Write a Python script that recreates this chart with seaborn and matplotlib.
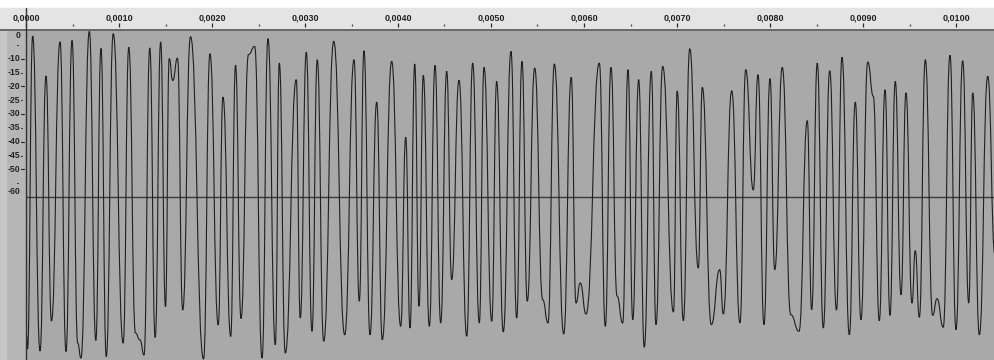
import numpy as np
import matplotlib
matplotlib.use("Agg")
import matplotlib.pyplot as plt
import seaborn as sns
import pandas as pd
from matplotlib.path import Path
from matplotlib.patches import PathPatch
from matplotlib.transforms import blended_transform_factory

sns.set_theme(style="white")
plt.rcParams['font.family'] = ['Liberation Sans', 'DejaVu Sans']

# Waveform vertices: time in milliseconds and display level
# (+1 = 0 dB on the upper half, 0 = -60 dB floor, -1 = 0 dB on the lower half)
time_ms = [
    0.005, 0.016, 0.072, 0.151, 0.215, 0.274, 0.366, 0.430, 0.495, 0.556,
    0.591, 0.681, 0.751, 0.806, 0.863, 0.938, 1.045, 1.105, 1.177, 1.226,
    1.269, 1.331, 1.389, 1.448, 1.500, 1.540, 1.578, 1.629, 1.685, 1.769,
    1.909, 1.978, 2.067, 2.118, 2.201, 2.253, 2.312, 2.392, 2.459, 2.538,
    2.602, 2.681, 2.724, 2.788, 2.906, 2.949, 3.014, 3.075, 3.132, 3.201,
    3.309, 3.427, 3.527, 3.584, 3.634, 3.699, 3.771, 3.831, 3.932, 4.029,
    4.083, 4.129, 4.180, 4.226, 4.272, 4.337, 4.398, 4.459, 4.524, 4.577,
    4.656, 4.739, 4.803, 4.874, 4.925, 5.008, 5.061, 5.132, 5.215, 5.276,
    5.333, 5.390, 5.470, 5.556, 5.613, 5.681, 5.782, 5.863, 5.914, 5.960,
    6.022, 6.165, 6.229, 6.290, 6.355, 6.416, 6.473, 6.524, 6.588, 6.648,
    6.724, 6.774, 6.846, 6.962, 7.002, 7.068, 7.137, 7.229, 7.272, 7.369,
    7.459, 7.498, 7.588, 7.677, 7.739, 7.820, 7.871, 7.935, 8.000, 8.051,
    8.132, 8.223, 8.312, 8.401, 8.448, 8.508, 8.573, 8.642, 8.715, 8.774,
    8.853, 8.917, 8.978, 9.051, 9.111, 9.175, 9.237, 9.290, 9.347, 9.409,
    9.462, 9.527, 9.562, 9.606, 9.670, 9.749, 9.796, 9.863, 9.935, 10.000,
    10.072, 10.137, 10.180, 10.251, 10.341, 10.419,
]
level = [
    -0.831, -0.916, 0.970, -0.928, 0.729, -0.747, 0.934, -0.931, 0.943, -0.880,
    -0.970, 0.997, -0.864, 0.895, -0.961, 0.984, -0.880, 0.902, -0.819, -0.861,
    -0.952, 0.898, -0.846, 0.934, -0.660, 0.834, 0.702, 0.837, -0.681, 0.966,
    -0.976, 0.863, -0.771, 0.602, -0.840, 0.794, -0.732, 0.858, 0.907, -0.970,
    0.954, -0.890, 0.807, -0.940, 0.707, -0.729, 0.873, -0.809, 0.827, -0.869,
    0.938, -0.830, 0.827, -0.628, 0.881, -0.830, 0.572, -0.860, 0.817, -0.779,
    0.360, -0.789, 0.801, -0.658, 0.733, -0.779, 0.793, -0.759, 0.757, -0.498,
    0.703, -0.839, 0.807, -0.759, 0.781, -0.749, 0.697, -0.813, 0.877, -0.729,
    0.817, -0.628, 0.777, -0.619, -0.759, 0.801, -0.825, 0.721, -0.639, -0.518,
    -0.705, 0.807, -0.779, 0.781, -0.596, -0.759, 0.767, -0.739, 0.707, -0.905,
    0.757, -0.769, 0.787, -0.693, 0.639, -0.745, 0.893, -0.428, 0.661, -0.769,
    -0.438, -0.705, 0.640, -0.759, 0.767, 0.042, 0.737, -0.769, 0.713, -0.438,
    0.781, -0.709, -0.809, 0.460, -0.679, 0.807, -0.789, 0.761, -0.681, 0.842,
    -0.830, 0.572, -0.739, 0.813, 0.607, -0.745, 0.646, -0.713, 0.697, -0.589,
    0.627, -0.639, -0.323, -0.725, 0.827, -0.713, -0.613, -0.785, 0.854, -0.799,
    0.821, -0.639, 0.627, -0.830, 0.727, -0.349,
]

# Time ruler
time_ticks = [0.0000, 0.0010, 0.0020, 0.0030, 0.0040, 0.0050,
              0.0060, 0.0070, 0.0080, 0.0090, 0.0100]
time_labels = ["0,0000", "0,0010", "0,0020", "0,0030", "0,0040", "0,0050",
               "0,0060", "0,0070", "0,0080", "0,0090", "0,0100"]
minor_ticks = [0.0005, 0.0015, 0.0025, 0.0035, 0.0045, 0.0055,
               0.0065, 0.0075, 0.0085, 0.0095, 0.0105]

# dB ruler
db_ticks = [0, -10, -15, -20, -25, -30, -35, -40, -45, -50, -60]
db_labels = ["0", "-10", "-15", "-20", "-25", "-30", "-35", "-40", "-45", "-50", "-60"]
db_dots = [-5, -55]

W, H = 994, 360
LEFT = 26          # left edge of the track, pixels
TOP = 31           # top edge of the track, pixels
CENTER = 197       # -60 dB floor line, pixels
PX_PER_S = 93000.0
HALF = CENTER - TOP

fig = plt.figure(figsize=(W / 100, H / 100), dpi=100)
fig.patch.set_facecolor("white")

t_left = -LEFT / PX_PER_S
t_right = (W - LEFT) / PX_PER_S

# Left (vertical ruler) panel
fig.add_artist(plt.Rectangle((0, 0), LEFT / W, (H - TOP + 2) / H,
                             transform=fig.transFigure, facecolor="#b6b6b6",
                             edgecolor="none", zorder=0))
fig.add_artist(plt.Rectangle((0, 0), 7 / W, (H - TOP + 2) / H,
                             transform=fig.transFigure, facecolor="#c6c6c6",
                             edgecolor="none", zorder=0))

# Waveform track
ax = fig.add_axes([LEFT / W, 0, 1 - LEFT / W, (H - TOP) / H])
ax.set_facecolor("#a9a9a9")
df = pd.DataFrame({"t": np.array(time_ms) / 1000.0, "amp": level})
sns.lineplot(data=df, x="t", y="amp", ax=ax, color="#1c1c1c", lw=0.8,
             sort=False, estimator=None, legend=False)

# Render the waveform with smooth S-shaped segments between its vertices
# (rounded at each extreme, steep through the floor line)
wave = ax.lines[-1]
xy = wave.get_xydata()
wave.set_visible(False)
verts = [tuple(xy[0])]
codes = [Path.MOVETO]
k = 0.5
for (x0, y0), (x1, y1) in zip(xy[:-1], xy[1:]):
    dx = x1 - x0
    verts += [(x0 + k * dx, y0), (x1 - k * dx, y1), (x1, y1)]
    codes += [Path.CURVE4] * 3
ax.add_patch(PathPatch(Path(verts, codes), facecolor="none",
                       edgecolor="#202020", lw=0.8, zorder=4))

ax.axhline(0, color="#3a3a3a", lw=1.0, zorder=3)
ax.set_xlim(0, t_right)
ax.set_ylim(-(H - CENTER) / HALF, 1.0)
ax.set_xticks([])
ax.set_yticks([])
ax.set_xlabel("")
ax.set_ylabel("")
for s in ax.spines.values():
    s.set_visible(False)

# dB labels in the left panel
trans = blended_transform_factory(fig.transFigure, ax.transData)
for d, lab in zip(db_ticks, db_labels):
    pos = (60 + d) / 60.0
    if d == 0:
        pos -= 5 / HALF
    elif d == -60:
        pos += 6 / HALF
    ax.text(20.5 / W, pos, lab, transform=trans, ha="right", va="center",
            fontsize=6.2, fontweight="bold", color="#222222", clip_on=False)
    if d % 10 == 0 and d not in (0, -60):
        ax.plot([20.8 / W, 23.5 / W], [pos, pos], transform=trans,
                color="#222222", lw=0.8, clip_on=False)
    elif d % 10 != 0:
        ax.plot([21.0 / W, 22.2 / W], [pos, pos], transform=trans,
                color="#333333", lw=0.8, clip_on=False)
for d in db_dots:
    pos = (60 + d) / 60.0
    ax.plot([16.5 / W, 17.5 / W], [pos, pos], transform=trans,
            color="#333333", lw=0.8, clip_on=False)

# Time ruler across the top
rul = fig.add_axes([0, 1 - 29 / H, 1, 29 / H])
rul.set_xlim(t_left, t_right)
rul.set_ylim(29, 0)
rul.axis("off")
rul.axhspan(8, 29, color="#e4e4e4", zorder=0)
rul.vlines(time_ticks, 22.5, 26.5, color="#2a2a2a", lw=0.9)
rul.vlines(minor_ticks, 24.0, 25.5, color="#444444", lw=0.9)
for t, lab in zip(time_ticks, time_labels):
    rul.text(t, 18.2, lab, ha="center", va="center", fontsize=6.5,
             fontweight="bold", color="#222222")

# Border between ruler and track
fig.add_artist(plt.Rectangle((0, (H - TOP) / H), 1, 2 / H,
                             transform=fig.transFigure, facecolor="#6a6a6a",
                             edgecolor="none", zorder=5))
# Left edge of the track
fig.add_artist(plt.Line2D([(LEFT - 0.3) / W, (LEFT - 0.3) / W], [0, 1 - 8 / H],
                          transform=fig.transFigure, color="#333333", lw=1.0,
                          zorder=6))

fig.savefig("out.png", dpi=100)
